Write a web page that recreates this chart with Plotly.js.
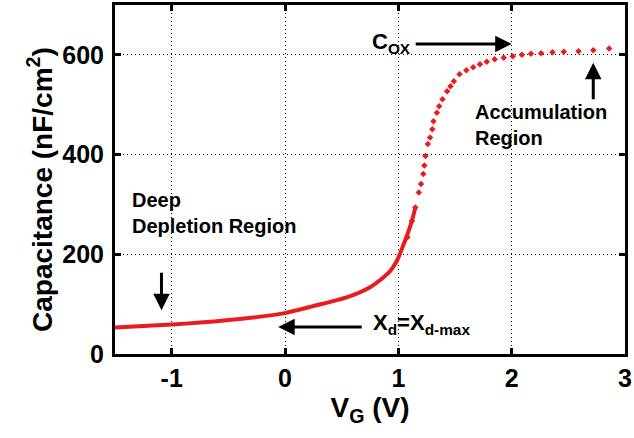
<!DOCTYPE html>
<html>
<head>
<meta charset="utf-8">
<script src="https://cdn.plot.ly/plotly-3.0.1.min.js"></script>
<style>html,body{margin:0;padding:0;background:#fff;}#chart{width:634px;height:438px;}</style>
</head>
<body>
<div id="chart"></div>
<script>
// Depletion-region curve (solid line part)
const lineV = [-1.5, -1.25, -1.0, -0.75, -0.5, -0.25, 0.0, 0.25, 0.55, 0.75, 0.87, 0.93, 0.98, 1.02, 1.05, 1.08, 1.12, 1.15];
const lineC = [53, 56, 59, 63, 68, 74, 82, 96, 114, 134, 154, 167, 184, 204, 222, 240, 267, 294];
// Marker samples (steep rise and accumulation)
const dotV = [1.08, 1.12, 1.15, 1.18, 1.20, 1.22, 1.23, 1.24, 1.26, 1.28, 1.30, 1.31, 1.34, 1.36, 1.39, 1.43, 1.46, 1.49, 1.54, 1.60, 1.66, 1.72, 1.78, 1.85, 1.93, 2.01, 2.09, 2.17, 2.26, 2.36, 2.46, 2.59, 2.72, 2.86];
const dotC = [234, 267, 294, 324, 341, 361, 378, 397, 421, 434, 451, 467, 484, 497, 511, 527, 537, 547, 561, 569, 575, 581, 586, 591, 594, 597, 600, 602, 603, 605, 606, 607, 609, 613];
const xTicks = [-1, 0, 1, 2, 3];
const yTicks = [0, 200, 400, 600];

const red = 'rgb(232,28,30)';
const traces = [
  {x: lineV, y: lineC, mode: 'lines', line: {color: red, width: 4, shape: 'spline', smoothing: 0.6}, hoverinfo: 'skip'},
  {x: dotV, y: dotC, mode: 'markers', marker: {color: red, size: 5, symbol: 'diamond'}, hoverinfo: 'skip'}
];
const fam = 'Liberation Sans, Arial, sans-serif';
const fB = (s) => ({family: fam, color: '#000', size: s, weight: 'bold'});
const ann = (o) => Object.assign({showarrow: false, font: fB(20), xref: 'x', yref: 'y'}, o);
const arr = (x, y, ax, ay) => ({x: x, y: y, ax: ax, ay: ay, xref: 'x', yref: 'y', axref: 'x', ayref: 'y', text: '', showarrow: true, arrowhead: 2, arrowsize: 1.1, arrowwidth: 3, arrowcolor: '#000'});
const axisCommon = {
  showline: true, linecolor: '#000', linewidth: 3, mirror: 'ticks',
  ticks: 'inside', ticklen: 6, tickwidth: 3, tickcolor: '#000',
  showgrid: true, gridcolor: '#000', griddash: '1px,3px', gridwidth: 1,
  zeroline: false, tickfont: fB(25)
};
const layout = {
  width: 634, height: 438,
  margin: {l: 115, r: 9, t: 5, b: 84},
  paper_bgcolor: '#fff', plot_bgcolor: '#fff',
  showlegend: false,
  xaxis: Object.assign({}, axisCommon, {
    range: [-1.5, 3], tickvals: xTicks, ticktext: xTicks.map(String),
    title: {text: 'V<sub>G</sub> (V)', font: fB(28), standoff: 6}
  }),
  yaxis: Object.assign({}, axisCommon, {
    range: [0, 700], tickvals: yTicks, ticktext: yTicks.map(String),
    ticklabelstandoff: 3
  }),
  annotations: [
    {xref: 'paper', yref: 'paper', x: -0.147, y: 0.47, xanchor: 'center', yanchor: 'middle', textangle: -90, showarrow: false,
     text: '<b>Capacitance (nF/cm<sup>2</sup>)</b>', font: fB(28)},
    ann({x: -1.37, y: 283, xanchor: 'left', yanchor: 'middle', align: 'left', text: '<b>Deep<br>Depletion Region</b>'}),
    ann({x: 0.76, y: 60, xanchor: 'left', yanchor: 'middle', align: 'left', text: '<b>X<sub>d</sub>=X<sub>d-max</sub></b>', font: fB(22)}),
    ann({x: 1.13, y: 624, xanchor: 'right', yanchor: 'middle', text: '<b>C<sub>OX</sub></b>', font: fB(22)}),
    ann({x: 1.66, y: 459, xanchor: 'left', yanchor: 'middle', align: 'left', text: '<b>Accumulation<br>Region</b>'}),
    arr(-1.09, 88, -1.09, 166),
    arr(-0.06, 54, 0.69, 54),
    arr(2.0, 622, 1.14, 622),
    arr(2.72, 584, 2.72, 508)
  ]
};
Plotly.newPlot('chart', traces, layout, {displayModeBar: false, staticPlot: true});
</script>
</body>
</html>
